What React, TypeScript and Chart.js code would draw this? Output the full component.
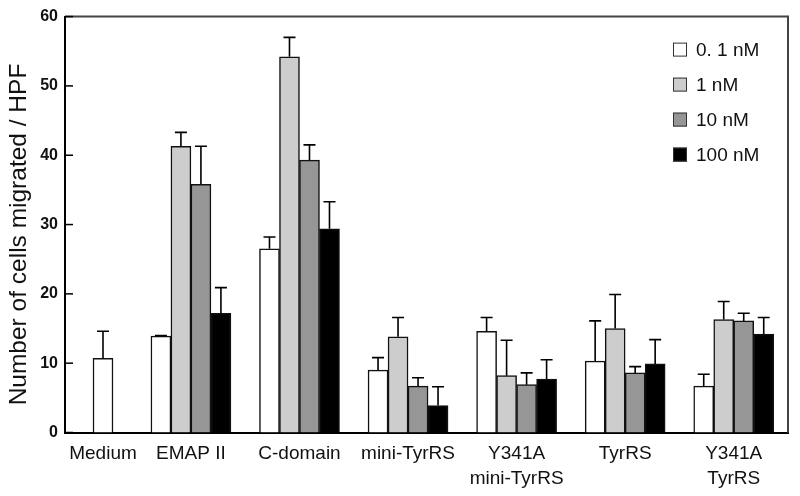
import React, { useEffect, useRef } from "react";
import { Chart, registerables } from "chart.js";

Chart.register(...registerables);

// ---- data ----
const CATEGORIES: (string | string[])[] = [
  "Medium",
  "EMAP II",
  "C-domain",
  "mini-TyrRS",
  ["Y341A", "mini-TyrRS"],
  "TyrRS",
  ["Y341A", "TyrRS"],
];
// category positions along the x axis (Medium sits closer to EMAP II)
const CATEGORY_POS = [0.19, 1, 2, 3, 4, 5, 6];

const SERIES_LABELS = ["0. 1 nM", "1 nM", "10 nM", "100 nM"];

const V_0_1 = [10.7, 13.9, 26.5, 9.0, 14.6, 10.3, 6.7];
const E_0_1 = [3.9, 0.1, 1.7, 1.8, 2.0, 5.8, 1.7];

const V_1 = [null, 41.3, 54.2, 13.8, 8.2, 15.0, 16.3];
const E_1 = [null, 2.0, 2.8, 2.8, 5.1, 4.9, 2.6];

const V_10 = [null, 35.8, 39.3, 6.7, 6.9, 8.6, 16.1];
const E_10 = [null, 5.5, 2.2, 1.2, 1.7, 0.9, 1.1];

const V_100 = [null, 17.2, 29.4, 3.9, 7.7, 9.9, 14.2];
const E_100 = [null, 3.7, 3.9, 2.7, 2.8, 3.5, 2.4];

const Y_MIN = 0;
const Y_MAX = 60;
const Y_STEP = 10;
const Y_TITLE = "Number of cells migrated / HPF";

const COLORS = ["#ffffff", "#cdcdcd", "#969696", "#000000"];
const FONT = "'Liberation Sans', Arial, Helvetica, sans-serif";

const errorBarPlugin = {
  id: "errorBars",
  afterDatasetsDraw(chart: any) {
    const { ctx, scales } = chart;
    const y = scales.y;
    ctx.save();
    ctx.strokeStyle = "#000";
    ctx.lineWidth = 1.6;
    chart.data.datasets.forEach((ds: any, di: number) => {
      const meta = chart.getDatasetMeta(di);
      meta.data.forEach((bar: any, i: number) => {
        const v = ds.data[i];
        const e = ds.errors ? ds.errors[i] : null;
        if (v == null || e == null) return;
        const x = bar.x;
        const yTop = y.getPixelForValue(v + e);
        const yBar = bar.y;
        ctx.beginPath();
        ctx.moveTo(x, yBar);
        ctx.lineTo(x, yTop);
        ctx.moveTo(x - 6, yTop);
        ctx.lineTo(x + 6, yTop);
        ctx.stroke();
      });
    });
    ctx.restore();
  },
};

const framePlugin = {
  id: "frameAndLegend",
  afterDraw(chart: any) {
    const { ctx, chartArea: a, scales } = chart;
    ctx.save();
    // top and right frame
    ctx.strokeStyle = "#444";
    ctx.lineWidth = 2;
    ctx.beginPath();
    ctx.moveTo(a.left, a.top);
    ctx.lineTo(a.right, a.top);
    ctx.lineTo(a.right, a.bottom);
    ctx.stroke();
    // inward y ticks
    ctx.strokeStyle = "#000";
    ctx.lineWidth = 1.5;
    scales.y.ticks.forEach((t: any) => {
      const py = scales.y.getPixelForValue(t.value);
      ctx.beginPath();
      ctx.moveTo(a.left, py);
      ctx.lineTo(a.left + 8, py);
      ctx.stroke();
    });
    // y axis title
    ctx.save();
    ctx.translate(25.5, 234.5);
    ctx.rotate(-Math.PI / 2);
    ctx.font = `24.5px ${FONT}`;
    ctx.fillStyle = "#111";
    ctx.textAlign = "center";
    ctx.textBaseline = "alphabetic";
    ctx.fillText(Y_TITLE, 0, 0);
    ctx.restore();
    // legend inside plot, top right
    const bx = a.right - 115;
    const y0 = a.top + 33;
    const gap = 35;
    ctx.font = `19px ${FONT}`;
    ctx.textBaseline = "middle";
    ctx.textAlign = "left";
    chart.data.datasets.forEach((ds: any, i: number) => {
      const cy = y0 + i * gap;
      ctx.fillStyle = ds.backgroundColor;
      ctx.fillRect(bx, cy - 7, 14, 14);
      ctx.strokeStyle = "#333";
      ctx.lineWidth = 1;
      ctx.strokeRect(bx + 0.5, cy - 6.5, 13, 13);
      ctx.fillStyle = "#111";
      ctx.fillText(ds.label, bx + 23, cy + 1);
    });
    ctx.restore();
  },
};

export default function App() {
  const ref = useRef<HTMLCanvasElement | null>(null);

  useEffect(() => {
    document.body.style.margin = "0";
    const canvas = ref.current;
    if (!canvas) return;
    const values = [V_0_1, V_1, V_10, V_100];
    const errors = [E_0_1, E_1, E_10, E_100];
    const chart = new Chart(canvas, {
      type: "bar",
      data: {
        labels: CATEGORY_POS as any,
        datasets: SERIES_LABELS.map((label, i) => ({
          label,
          data: values[i] as any,
          errors: errors[i],
          backgroundColor: COLORS[i],
          borderColor: "#111",
          borderWidth: 1.5,
          barThickness: 20,
          skipNull: true,
        })) as any,
      },
      options: {
        animation: false,
        responsive: false,
        devicePixelRatio: 1,
        layout: { padding: { top: 15, right: 12, left: 0, bottom: 0 } },
        plugins: {
          legend: { display: false },
          tooltip: { enabled: false },
        },
        scales: {
          x: {
            type: "linear",
            min: -0.16,
            max: 6.5,
            offset: false,
            grid: { display: false, drawTicks: false },
            border: { display: true, color: "#000", width: 2 },
            afterBuildTicks: (scale: any) => {
              scale.ticks = CATEGORY_POS.map((v) => ({ value: v }));
            },
            afterFit: (scale: any) => {
              scale.height = 63.5;
            },
            ticks: {
              autoSkip: false,
              maxRotation: 0,
              minRotation: 0,
              padding: 9,
              color: "#111",
              font: { family: FONT, size: 19, lineHeight: 1.3 },
              callback: (_v: any, i: number) => CATEGORIES[i] as any,
            },
          },
          y: {
            min: Y_MIN,
            max: Y_MAX,
            grid: { display: false, drawTicks: false },
            border: { display: true, color: "#000", width: 2 },
            afterFit: (scale: any) => {
              scale.width = 65;
            },
            ticks: {
              stepSize: Y_STEP,
              padding: 7,
              color: "#111",
              font: { family: FONT, size: 16, weight: "bold" },
            },
          },
        },
      } as any,
      plugins: [errorBarPlugin, framePlugin],
    });
    return () => chart.destroy();
  }, []);

  return (
    <div style={{ width: 800, height: 496 }}>
      <canvas ref={ref} width={800} height={496} style={{ display: "block" }} />
    </div>
  );
}
